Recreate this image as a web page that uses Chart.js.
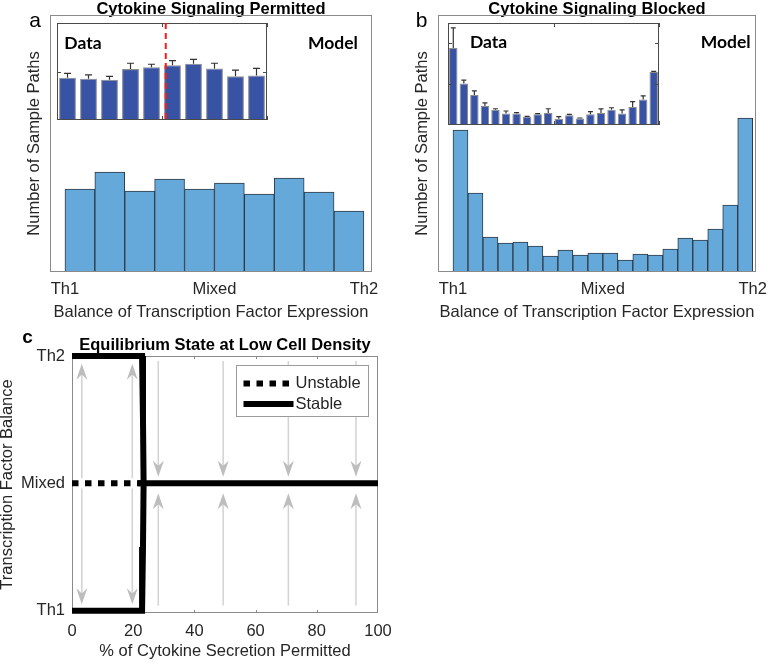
<!DOCTYPE html>
<html>
<head>
<meta charset="utf-8">
<script src="https://cdn.jsdelivr.net/npm/chart.js@4.4.0/dist/chart.umd.min.js"></script>
<style>
  html, body { margin: 0; padding: 0; background: #fff; overflow: hidden; }
  #fig { position: relative; width: 768px; height: 661px; overflow: hidden; }
  canvas { position: absolute; }
</style>
</head>
<body>
<div id="fig">
  <canvas id="histA" width="384" height="335" style="left:0;top:-5px;width:384px;height:335px"></canvas>
  <canvas id="histB" width="384" height="335" style="left:384px;top:-5px;width:384px;height:335px"></canvas>
  <canvas id="insetA" width="214" height="101" style="left:55px;top:21px;width:214px;height:101px"></canvas>
  <canvas id="insetB" width="215" height="106" style="left:446px;top:21px;width:215px;height:106px"></canvas>
  <canvas id="equil" width="400" height="331" style="left:0;top:330px;width:400px;height:331px"></canvas>
</div>
<script>
// tick labels shared by the histogram panels
const balanceTicks = [-1, 0, 1];
const balanceLabels = ['Th1', 'Mixed', 'Th2'];

// panel a - cytokine signaling permitted
const permittedModel = [83, 100, 81, 93, 83, 89, 78, 94, 80, 61];
const permittedData = [8.7, 8.5, 8.3, 10.5, 10.9, 11.3, 11.6, 10.6, 9.0, 9.2];
const permittedErr = [0.9, 0.8, 0.7, 1.2, 0.6, 0.95, 0.9, 1.1, 1.3, 1.45];
const permittedSplit = 5.18;

// panel b - cytokine signaling blocked
const blockedModel = [142, 79, 35, 29, 30, 26, 16, 22, 17, 19, 19, 12, 18, 17, 23, 34, 32, 43, 67, 154];
const blockedData = [18.7, 10.1, 7.3, 4.6, 3.7, 2.8, 2.8, 2.0, 2.6, 2.9, 1.5, 2.4, 1.6, 2.6, 2.9, 3.7, 2.8, 4.4, 6.2, 12.9];
const blockedErr = [4.9, 0.8, 1.0, 0.8, 0.25, 0.6, 0.2, 0.1, 0.15, 1.05, 0.55, 0.2, 0.1, 0.65, 1.0, 0.5, 0.9, 1.3, 0.9, 0.15];

// panel c - equilibrium state
const stateTicks = [0, 0.5, 1];
const stateLabels = ['Th1', 'Mixed', 'Th2'];
const unstableX = [0, 22.5];
const unstableY = [0.5, 0.5];
const stableBranchX = [0, 22.9, 23.2, 23.4, 23.2, 22.9, 0];
const stableBranchY = [1, 1, 0.75, 0.5, 0.25, 0, 0];
const stableMixedX = [21.5, 100];
const stableMixedY = [0.5, 0.5];
const arrowX =    [3.2, 3.2, 19.7, 19.7, 28.2, 28.2, 49.4, 49.4, 70.7, 70.7, 92.8, 92.8];
const arrowFrom = [0.52, 0.48, 0.52, 0.48, 0.98, 0.02, 0.98, 0.02, 0.98, 0.02, 0.98, 0.02];
const arrowTo =   [0.97, 0.025, 0.97, 0.025, 0.526, 0.461, 0.526, 0.461, 0.526, 0.461, 0.526, 0.461];

Chart.defaults.font.family = "'Liberation Sans', Arial, sans-serif";
Chart.defaults.color = '#262626';

const xy = (xs, ys) => xs.map((x, i) => ({ x: x, y: ys[i] }));

// box round the plot area with small inward ticks
function framePlugin(o) {
  return {
    id: 'frame',
    [o.under ? 'beforeDatasetsDraw' : 'afterDatasetsDraw'](chart) {
      const { ctx, chartArea: a, scales } = chart;
      const len = o.len || 0;
      ctx.save();
      ctx.strokeStyle = o.color;
      ctx.lineWidth = 1;
      ctx.strokeRect(Math.round(a.left) + 0.5, Math.round(a.top) + 0.5,
        Math.round(a.right - a.left) - 1, Math.round(a.bottom - a.top) - 1);
      ctx.beginPath();
      (o.xTicks || []).forEach(v => {
        const px = Math.round(scales.x.getPixelForValue(v)) + 0.5;
        ctx.moveTo(px, a.bottom); ctx.lineTo(px, a.bottom - len);
        ctx.moveTo(px, a.top); ctx.lineTo(px, a.top + len);
      });
      (o.yTicks || []).forEach(v => {
        const py = Math.round(scales.y.getPixelForValue(v)) + 0.5;
        ctx.moveTo(a.left, py); ctx.lineTo(a.left + len, py);
        ctx.moveTo(a.right, py); ctx.lineTo(a.right - len, py);
      });
      ctx.stroke();
      ctx.restore();
    }
  };
}

function notesPlugin(notes) {
  return {
    id: 'notes',
    afterDraw(chart) {
      const ctx = chart.ctx;
      ctx.save();
      notes.forEach(n => {
        ctx.font = n.font;
        ctx.fillStyle = '#000';
        ctx.textAlign = n.align || 'left';
        ctx.textBaseline = 'alphabetic';
        ctx.fillText(n.text, n.x, n.y);
      });
      ctx.restore();
    }
  };
}

function errorBarPlugin(values, errors, cap) {
  return {
    id: 'errorBars',
    afterDatasetsDraw(chart) {
      const { ctx, scales } = chart;
      const meta = chart.getDatasetMeta(0);
      ctx.save();
      ctx.strokeStyle = '#333';
      ctx.lineWidth = 1.2;
      ctx.beginPath();
      meta.data.forEach((bar, i) => {
        const top = scales.y.getPixelForValue(values[i] + errors[i]);
        ctx.moveTo(bar.x, bar.y); ctx.lineTo(bar.x, top);
        ctx.moveTo(bar.x - cap, top); ctx.lineTo(bar.x + cap, top);
      });
      ctx.stroke();
      ctx.restore();
    }
  };
}

function splitPlugin(value) {
  return {
    id: 'split',
    afterDatasetsDraw(chart) {
      const { ctx, chartArea: a, scales } = chart;
      const px = scales.x.getPixelForValue(value);
      ctx.save();
      ctx.strokeStyle = '#ff1a1a';
      ctx.lineWidth = 2;
      ctx.setLineDash([6, 4]);
      ctx.beginPath();
      ctx.moveTo(px, a.top); ctx.lineTo(px, a.bottom);
      ctx.stroke();
      ctx.restore();
    }
  };
}

function histogram(id, title, counts, o) {
  const n = counts.length;
  const points = counts.map((c, i) => ({ x: -1 + (i + 0.5) * 2 / n, y: c }));
  return new Chart(document.getElementById(id), {
    type: 'bar',
    data: {
      datasets: [{
        data: points,
        backgroundColor: '#64a9d9',
        borderColor: '#2e3a46',
        borderWidth: 1,
        barPercentage: 1,
        categoryPercentage: 1
      }]
    },
    options: {
      responsive: false,
      animation: false,
      layout: { padding: { left: 0, right: 12, top: 0, bottom: 0 } },
      plugins: {
        legend: { display: false },
        tooltip: { enabled: false },
        title: {
          display: true, text: title, fullSize: false, color: '#000',
          font: { size: 16.5, weight: 'bold', lineHeight: 1 },
          padding: { top: 6.5, bottom: -3 }
        }
      },
      scales: {
        x: {
          type: 'linear', min: -1.1, max: o.xMax, offset: false,
          grid: { display: false, drawTicks: false },
          border: { display: false },
          afterBuildTicks: s => { s.ticks = balanceTicks.map(v => ({ value: v })); },
          afterFit: s => { s.height = 58; s.paddingLeft = 0; s.paddingRight = 0; },
          ticks: {
            padding: 8, autoSkip: false, maxRotation: 0, font: { size: 16.5 },
            callback: v => balanceLabels[balanceTicks.indexOf(v)]
          },
          title: {
            display: true, text: 'Balance of Transcription Factor Expression',
            font: { size: 16.5 }, padding: { top: 0, bottom: 7.6 }
          }
        },
        y: {
          min: 0, max: 257,
          grid: { display: false, drawTicks: false },
          border: { display: false },
          ticks: { display: false },
          afterFit: s => { s.width = o.yWidth; s.paddingTop = 0; s.paddingBottom = 0; },
          title: {
            display: true, text: 'Number of Sample Paths',
            font: { size: 16.5 }, padding: { top: o.yTitlePad, bottom: 0 }
          }
        }
      }
    },
    plugins: [framePlugin({ color: '#8a8a8a' }), notesPlugin(o.notes)]
  });
}

function inset(id, values, errors, o) {
  const points = values.map((v, i) => ({ x: i + 0.5, y: v }));
  const plugins = [
    errorBarPlugin(values, errors, o.cap),
    framePlugin({ color: '#4a4a4a', len: 4, xTicks: o.xTicks, yTicks: o.yTicks }),
    notesPlugin(o.notes)
  ];
  if (o.split !== undefined) plugins.push(splitPlugin(o.split));
  return new Chart(document.getElementById(id), {
    type: 'bar',
    data: {
      datasets: [{
        data: points,
        backgroundColor: '#3852a4',
        borderColor: '#8c8c8c',
        borderWidth: 1,
        barPercentage: 0.8,
        categoryPercentage: 1
      }]
    },
    options: {
      responsive: false,
      animation: false,
      layout: { padding: 2 },
      plugins: { legend: { display: false }, tooltip: { enabled: false } },
      scales: {
        x: { type: 'linear', display: false, min: 0, max: values.length, offset: false },
        y: { display: false, min: 0, max: o.yMax }
      }
    },
    plugins: plugins
  });
}

histogram('histA', 'Cytokine Signaling Permitted', permittedModel, {
  xMax: 1.054, yWidth: 50, yTitlePad: 25,
  notes: [
    { text: 'a', x: 35, y: 32, font: '21px "Liberation Sans", Arial', align: 'center' },
    { text: 'Model', x: 308, y: 54.3, font: 'bold 17.5px Lato' }
  ]
});
histogram('histB', 'Cytokine Signaling Blocked', blockedModel, {
  xMax: 1.022, yWidth: 54, yTitlePad: 29,
  notes: [
    { text: 'b', x: 37.5, y: 31.7, font: '21px "Liberation Sans", Arial', align: 'center' },
    { text: 'Model', x: 316.7, y: 53.3, font: 'bold 17.5px Lato' }
  ]
});

inset('insetA', permittedData, permittedErr, {
  yMax: 20, cap: 3.5, xTicks: [0, 5, 10], yTicks: [10], split: permittedSplit,
  notes: [{ text: 'Data', x: 9.3, y: 28.3, font: 'bold 17.5px Lato' }]
});
inset('insetB', blockedData, blockedErr, {
  yMax: 24.8, cap: 2.5, xTicks: [0, 10, 20], yTicks: [10, 20],
  notes: [{ text: 'Data', x: 24, y: 27.3, font: 'bold 17.5px Lato' }]
});

// gray flow arrows in panel c
const arrowPlugin = {
  id: 'arrows',
  beforeDatasetsDraw(chart) {
    const { ctx, scales } = chart;
    const headLen = 16, headW = 11;
    ctx.save();
    arrowX.forEach((xv, i) => {
      const x = scales.x.getPixelForValue(xv);
      const y0 = scales.y.getPixelForValue(arrowFrom[i]);
      const y1 = scales.y.getPixelForValue(arrowTo[i]);
      const d = y1 > y0 ? 1 : -1;
      ctx.strokeStyle = '#d2d2d2';
      ctx.lineWidth = 1.5;
      ctx.beginPath();
      ctx.moveTo(x, y0); ctx.lineTo(x, y1 - d * headLen * 0.6);
      ctx.stroke();
      ctx.fillStyle = '#bdbdbd';
      ctx.beginPath();
      ctx.moveTo(x, y1);
      ctx.lineTo(x - headW / 2, y1 - d * headLen);
      ctx.lineTo(x, y1 - d * headLen * 0.68);
      ctx.lineTo(x + headW / 2, y1 - d * headLen);
      ctx.closePath();
      ctx.fill();
    });
    ctx.restore();
  }
};

// boxed legend inside the plot area
const boxLegendPlugin = {
  id: 'boxLegend',
  afterDatasetsDraw(chart) {
    const { ctx, chartArea: a } = chart;
    const w = 132, h = 51;
    const left = Math.round(a.right - 10 - w) + 0.5, top = Math.round(a.top + 9) + 0.5;
    ctx.save();
    ctx.fillStyle = '#fff';
    ctx.fillRect(left, top, w, h);
    ctx.strokeStyle = '#9a9a9a';
    ctx.lineWidth = 1;
    ctx.strokeRect(left, top, w, h);
    [0, 1].forEach((di, k) => {
      const ds = chart.data.datasets[di];
      const y = top + 18 + k * 20.6;
      ctx.strokeStyle = ds.borderColor;
      ctx.lineWidth = ds.borderWidth;
      ctx.lineCap = 'butt';
      ctx.setLineDash(ds.borderDash || []);
      ctx.beginPath();
      ctx.moveTo(left + 7, y); ctx.lineTo(left + 57, y);
      ctx.stroke();
      ctx.setLineDash([]);
      ctx.fillStyle = '#262626';
      ctx.font = '16.5px "Liberation Sans", Arial';
      ctx.textAlign = 'left';
      ctx.textBaseline = 'middle';
      ctx.fillText(ds.label, left + 59, y);
    });
    ctx.restore();
  }
};

const lineStyle = { borderColor: '#000', borderWidth: 6, pointRadius: 0, showLine: true,
  tension: 0, clip: false, borderJoinStyle: 'miter', borderCapStyle: 'butt' };

new Chart(document.getElementById('equil'), {
  type: 'scatter',
  data: {
    datasets: [
      Object.assign({ label: 'Unstable', data: xy(unstableX, unstableY), borderDash: [6.5, 6.5] }, lineStyle),
      Object.assign({ label: 'Stable', data: xy(stableBranchX, stableBranchY) }, lineStyle),
      Object.assign({ label: 'Stable', data: xy(stableMixedX, stableMixedY) }, lineStyle)
    ]
  },
  options: {
    responsive: false,
    animation: false,
    layout: { padding: { left: 0, right: 22, top: 0, bottom: 0 } },
    plugins: {
      legend: { display: false },
      tooltip: { enabled: false },
      title: {
        display: true, text: 'Equilibrium State at Low Cell Density', fullSize: false, color: '#000',
        font: { size: 16.5, weight: 'bold', lineHeight: 1 },
        padding: { top: 7.25, bottom: 2.25 }
      }
    },
    scales: {
      x: {
        type: 'linear', min: 0, max: 100,
        grid: { display: false, drawTicks: false },
        border: { display: false },
        afterFit: s => { s.height = 48; s.paddingLeft = 0; s.paddingRight = 0; },
        ticks: { stepSize: 20, padding: 8.8, maxRotation: 0, font: { size: 16.5 } },
        title: {
          display: true, text: '% of Cytokine Secretion Permitted',
          font: { size: 16.5 }, padding: { top: 0, bottom: 0 }
        }
      },
      y: {
        type: 'linear', min: -0.009, max: 1,
        grid: { display: false, drawTicks: false },
        border: { display: false },
        afterBuildTicks: s => { s.ticks = stateTicks.map(v => ({ value: v })); },
        afterFit: s => { s.width = 72; s.paddingTop = 0; s.paddingBottom = 0; },
        ticks: {
          padding: 7, autoSkip: false, font: { size: 16.5 },
          callback: v => stateLabels[stateTicks.indexOf(v)]
        },
        title: {
          display: true, text: 'Transcription Factor Balance',
          font: { size: 16.5 }, padding: { top: -2.4, bottom: 0 }
        }
      }
    }
  },
  plugins: [
    framePlugin({ color: '#8a8a8a', under: true, len: 3, xTicks: [20, 40, 60, 80], yTicks: [0.5] }),
    arrowPlugin,
    boxLegendPlugin,
    notesPlugin([{ text: 'c', x: 27.5, y: 13.3, font: 'bold 19px "Liberation Sans", Arial', align: 'center' }])
  ]
});
</script>
</body>
</html>
